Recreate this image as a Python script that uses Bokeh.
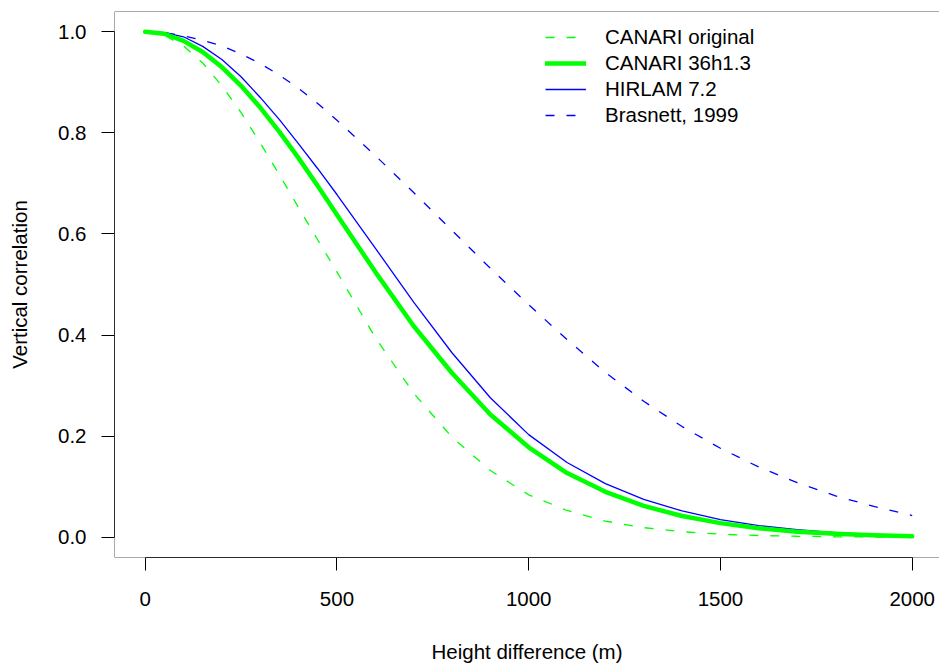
from bokeh.plotting import figure
from bokeh.models import Range1d, Legend, LegendItem, Span, PrintfTickFormatter
from bokeh.embed import file_html
from bokeh.resources import INLINE

# Height difference (m)
height_m = [0, 50, 100, 150, 200, 250, 300, 350, 400, 450, 500,
            600, 700, 800, 900, 1000, 1100, 1200, 1300, 1400, 1500,
            1600, 1700, 1800, 1900, 2000]

canari_original = [1.000, 0.993, 0.972, 0.938, 0.893, 0.840, 0.780, 0.717, 0.652, 0.588, 0.525,
                   0.395, 0.285, 0.198, 0.132, 0.084, 0.053, 0.032, 0.019, 0.011, 0.006,
                   0.0035, 0.002, 0.001, 0.0005, 0.0002]
canari_36h13 = [1.000, 0.996, 0.982, 0.960, 0.930, 0.893, 0.850, 0.802, 0.750, 0.695, 0.638,
                0.525, 0.418, 0.325, 0.243, 0.178, 0.127, 0.090, 0.062, 0.042, 0.028,
                0.018, 0.011, 0.007, 0.004, 0.002]
hirlam_72 = [1.000, 0.998, 0.990, 0.971, 0.945, 0.911, 0.870, 0.826, 0.778, 0.729, 0.678,
             0.572, 0.465, 0.365, 0.276, 0.203, 0.148, 0.106, 0.075, 0.052, 0.035,
             0.023, 0.015, 0.009, 0.005, 0.003]
brasnett_1999 = [1.000, 0.998, 0.992, 0.983, 0.972, 0.956, 0.937, 0.914, 0.888, 0.858, 0.825,
                 0.755, 0.682, 0.607, 0.532, 0.460, 0.391, 0.326, 0.269, 0.219, 0.176,
                 0.139, 0.108, 0.082, 0.061, 0.043]

x_ticks = [0, 500, 1000, 1500, 2000]
y_ticks = [0.0, 0.2, 0.4, 0.6, 0.8, 1.0]

FONT = "Liberation Sans"
FS = "20.5px"
GREEN = "#00FF00"
BLUE = "#0000FF"

p = figure(width=939, height=666, output_backend="svg", toolbar_location=None,
           x_range=Range1d(-80, 2071.2), y_range=Range1d(-0.04, 1.04),
           min_border_left=114, min_border_right=0, min_border_top=11, min_border_bottom=109)

p.background_fill_color = "white"
p.border_fill_color = "white"
p.outline_line_color = None
p.xgrid.grid_line_color = None
p.ygrid.grid_line_color = None

# box (top, left, bottom edges; right edge lies outside the window)
for loc, dim in [(1.04, "width"), (-0.04, "width"), (-80, "height")]:
    p.add_layout(Span(location=loc, dimension=dim, line_color="#555555", line_width=1))

r_bras = p.line(height_m, brasnett_1999, line_color=BLUE, line_width=1.3, line_dash="9 12")
r_hirl = p.line(height_m, hirlam_72, line_color=BLUE, line_width=1.3)
r_orig = p.line(height_m, canari_original, line_color=GREEN, line_width=1.3, line_dash="9 12")
r_36h = p.line(height_m, canari_36h13, line_color=GREEN, line_width=4.5, line_cap="round",
               line_join="round")

for ax in (p.xaxis[0], p.yaxis[0]):
    ax.axis_line_color = "black"
    ax.axis_line_width = 1
    ax.major_tick_line_color = "black"
    ax.major_tick_in = 0
    ax.major_tick_out = 13
    ax.minor_tick_line_color = None
    ax.major_label_text_font = FONT
    ax.major_label_text_font_size = FS
    ax.major_label_text_color = "black"
    ax.axis_label_text_font = FONT
    ax.axis_label_text_font_size = FS
    ax.axis_label_text_font_style = "normal"
    ax.axis_label_text_color = "black"

p.xaxis.ticker = x_ticks
p.xaxis.bounds = (0, 2000)
p.xaxis.axis_label = "Height difference (m)"
p.xaxis.major_label_standoff = 21
p.xaxis.axis_label_standoff = 31

p.yaxis.ticker = y_ticks
p.yaxis.bounds = (0, 1)
p.yaxis.formatter = PrintfTickFormatter(format="%.1f")
p.yaxis.axis_label = "Vertical correlation"
p.yaxis.major_label_standoff = 15
p.yaxis.axis_label_standoff = 24

legend = Legend(
    items=[
        LegendItem(label="CANARI original", renderers=[r_orig]),
        LegendItem(label="CANARI 36h1.3", renderers=[r_36h]),
        LegendItem(label="HIRLAM 7.2", renderers=[r_hirl]),
        LegendItem(label="Brasnett, 1999", renderers=[r_bras]),
    ],
    location=(431, 429), padding=0, margin=0,
    border_line_color=None, background_fill_alpha=0,
    glyph_width=41, glyph_height=26, label_height=26, spacing=0,
    label_standoff=19, label_text_font=FONT, label_text_font_size=FS,
    label_text_color="black",
)
p.add_layout(legend)

open("out.html", "w").write(file_html(p, INLINE))
